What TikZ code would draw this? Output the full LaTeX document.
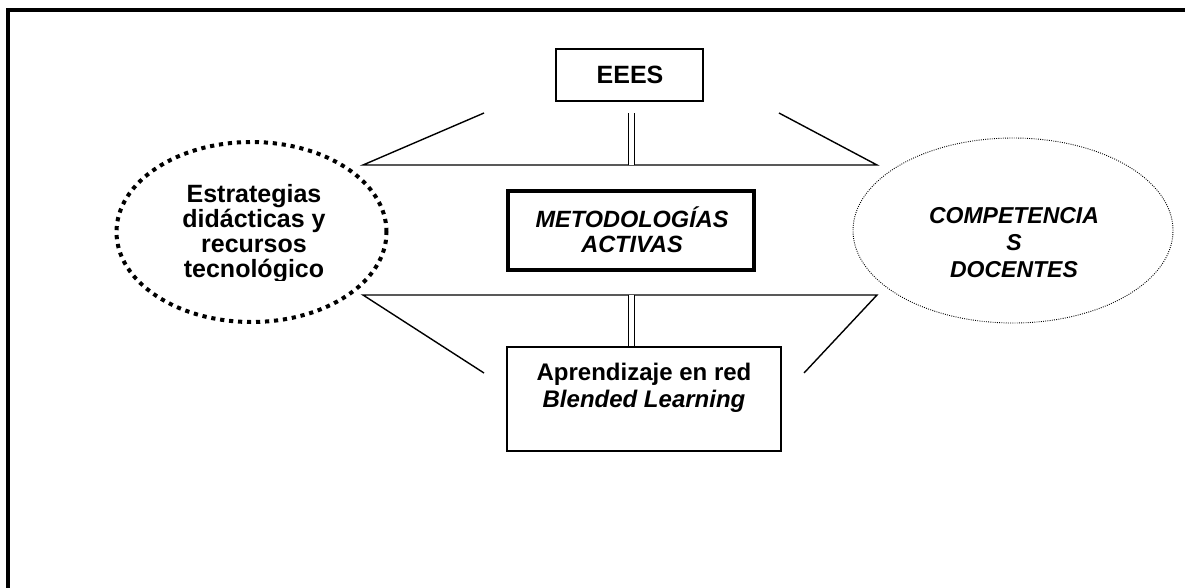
\documentclass[tikz,border=0pt]{standalone}
\usepackage{fontspec}
\setmainfont{Liberation Sans}
\usetikzlibrary{shapes.geometric}
\begin{document}
\begin{tikzpicture}[x=1pt,y=-1pt,
  frame/.style={line width=4pt,line join=miter},
  linkline/.style={line width=1.4pt},
  dbl/.style={line width=1.3pt,double,double distance=4.6pt},
  plainbox/.style={draw,line width=1.6pt,rectangle,inner sep=0pt},
  heavybox/.style={draw,line width=4pt,rectangle,inner sep=0pt},
  bolddots/.style={draw,ellipse,inner sep=0pt,line width=4pt,dash pattern=on 4.2pt off 4.8pt},
  finedots/.style={draw,ellipse,inner sep=0pt,line width=0.9pt,dash pattern=on 0.9pt off 1.3pt},
  lbl/.style={anchor=base,inner sep=0pt},
  big/.style={font=\fontsize{25}{25}\selectfont\bfseries},
  mid/.style={font=\fontsize{24}{24}\selectfont\bfseries},
  midit/.style={font=\fontsize{23.5}{23.5}\selectfont\bfseries\itshape},
  smallit/.style={font=\fontsize{23}{23}\selectfont\bfseries\itshape}
]
\useasboundingbox (0,0) rectangle (1185,587);

% outer frame: top and left edges only
\draw[frame] (8,590) -- (8,10) -- (1190,10);

% boxes
\node[plainbox,minimum width=147pt,minimum height=52pt] (eees) at (629.5,75) {};
\node[heavybox,minimum width=246pt,minimum height=79pt] (metod) at (631,230.5) {};
\node[plainbox,minimum width=274pt,minimum height=104pt] (aprend) at (644,399) {};

% ellipses
\node[bolddots,minimum width=270pt,minimum height=180pt] (estrat) at (251.5,232) {};
\node[finedots,minimum width=320pt,minimum height=185pt] (compet) at (1013,230.5) {};

% upper trapezoid
\coordinate (tl) at (484,113);
\coordinate (tr) at (779,113);
\coordinate (ul) at (363,165);
\coordinate (ur) at (877,165);
\coordinate (ut) at (631.5,113);
\coordinate (um) at (631.5,165);
\draw[linkline] (tl) -- (ul) -- (ur) -- (tr);
\draw[dbl] (ut) -- (um);

% lower trapezoid
\coordinate (ll) at (363,295);
\coordinate (lr) at (877,295);
\coordinate (bl) at (484,373);
\coordinate (br) at (804,373);
\coordinate (lm) at (631.5,295);
\draw[linkline] (bl) -- (ll) -- (lr) -- (br);
\draw[dbl] (lm) -- (aprend.north -| lm);

% texts
\node[lbl,big] (teees) at (630,83) {EEES};

\node[lbl,midit] (tm1) at (632,227) {METODOLOGÍAS};
\node[lbl,midit] (tm2) at (632,252) {ACTIVAS};

\node[lbl,big] (te1) at (254,202) {Estrategias};
\node[lbl,big] (te2) at (254,227) {didácticas y};
\node[lbl,big] (te3) at (254,252) {recursos};
\begin{scope}
  % last line is cut off by its text frame
  \clip (120,255) rectangle (390,280.5);
  \node[lbl,big] (te4) at (254,277) {tecnológico};
\end{scope}

\node[lbl,smallit] (tc1) at (1014,223) {COMPETENCIA};
\node[lbl,smallit] (tc2) at (1014,250) {S};
\node[lbl,smallit] (tc3) at (1014,277) {DOCENTES};

\node[lbl,mid] (ta1) at (644,380) {Aprendizaje en red};
\node[lbl,mid,font=\fontsize{24}{24}\selectfont\bfseries\itshape] (ta2) at (644,407) {Blended Learning};
\end{tikzpicture}
\end{document}
